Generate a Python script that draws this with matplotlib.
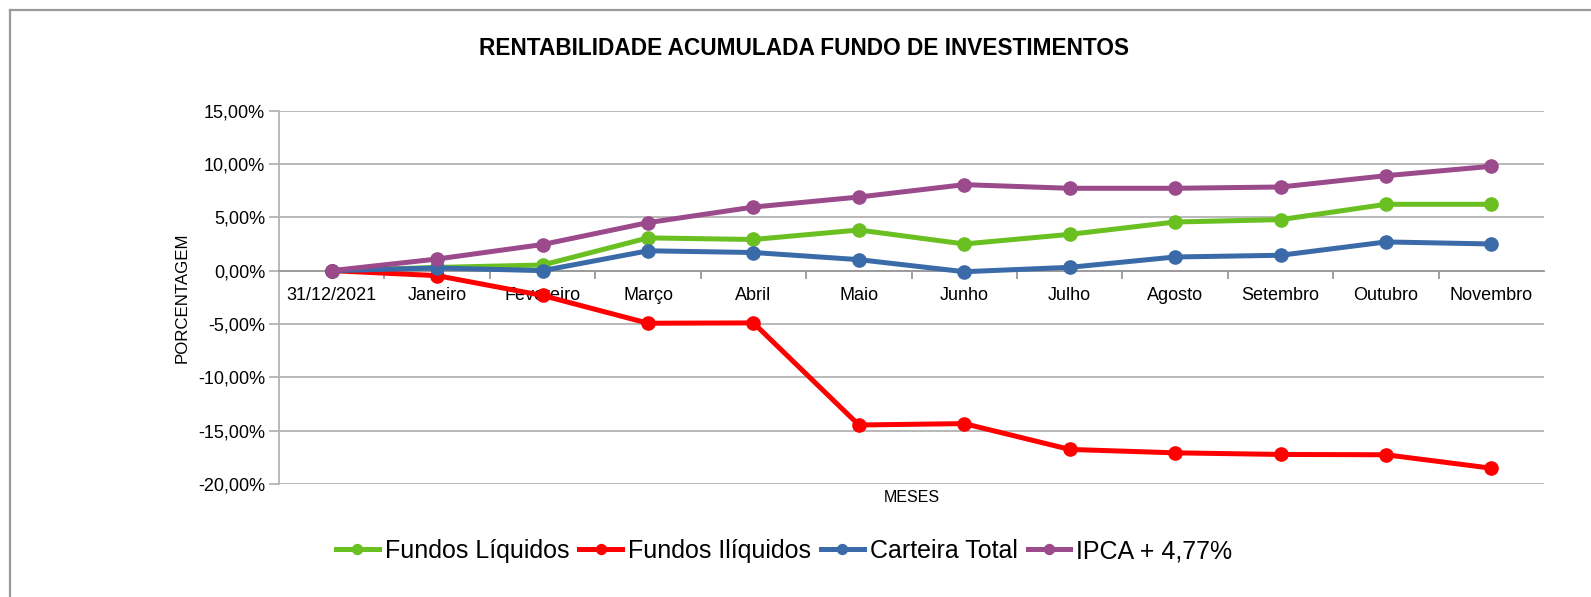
import matplotlib
matplotlib.use("Agg")
import matplotlib.pyplot as plt
from matplotlib.lines import Line2D
from matplotlib.ticker import FixedLocator, FuncFormatter

plt.rcParams['font.family'] = ['Liberation Sans', 'DejaVu Sans']

categories = ["31/12/2021", "Janeiro", "Fevereiro", "Março", "Abril", "Maio",
              "Junho", "Julho", "Agosto", "Setembro", "Outubro", "Novembro"]
fundos_liquidos = [0.0, 0.30, 0.53, 3.07, 2.92, 3.81, 2.50, 3.40, 4.56, 4.78, 6.22, 6.22]
fundos_iliquidos = [0.0, -0.47, -2.33, -4.93, -4.90, -14.47, -14.34, -16.76, -17.08, -17.23, -17.26, -18.52]
carteira_total = [0.0, 0.25, 0.0, 1.86, 1.70, 1.03, -0.10, 0.31, 1.28, 1.44, 2.69, 2.50]
ipca = [0.0, 1.09, 2.45, 4.50, 5.96, 6.90, 8.06, 7.72, 7.72, 7.84, 8.90, 9.78]

series = [
    ("Fundos Líquidos", fundos_liquidos, "#6abf21"),
    ("Fundos Ilíquidos", fundos_iliquidos, "#ff0000"),
    ("Carteira Total", carteira_total, "#3a6ba8"),
    ("IPCA + 4,77%", ipca, "#9b4a8c"),
]
yticks = [15, 10, 5, 0, -5, -10, -15, -20]

fig = plt.figure(figsize=(15.91, 5.97), dpi=100)
ax = fig.add_axes([0.1754, 0.1893, 0.9705 - 0.1754, 0.8147 - 0.1893])

x = list(range(len(categories)))
for name, vals, col in series:
    ax.plot(x, vals, color=col, lw=3.6, marker='o', markersize=9.5,
            solid_joinstyle='round', label=name, zorder=3)

ax.set_xlim(-0.5, len(categories) - 0.5)
ax.set_ylim(-20, 15)
ax.yaxis.set_major_locator(FixedLocator(yticks))
ax.yaxis.set_major_formatter(FuncFormatter(lambda v, p: f"{v:.2f}%".replace('.', ',')))
ax.grid(axis='y', color='#b3b3b3', lw=1.3, zorder=0)
ax.set_axisbelow(True)

for s in ['top', 'right']:
    ax.spines[s].set_visible(False)
ax.spines['left'].set_color('#b3b3b3')
ax.spines['left'].set_linewidth(1.3)
ax.spines['bottom'].set_position(('data', 0))
ax.spines['bottom'].set_color('#999999')
ax.spines['bottom'].set_linewidth(1.3)

# boundary ticks (no labels) and category labels
ax.xaxis.set_major_locator(FixedLocator([i + 0.5 for i in range(len(categories) - 1)]))
ax.xaxis.set_major_formatter(FuncFormatter(lambda v, p: ""))
ax.xaxis.set_minor_locator(FixedLocator(x))
ax.set_xticklabels(categories, minor=True)
ax.tick_params(axis='x', which='major', length=6, color='#999999', width=1.3, direction='out')
ax.tick_params(axis='x', which='minor', length=0, pad=12, labelsize=13)
ax.tick_params(axis='y', length=7, color='#b3b3b3', width=1.3, labelsize=13, pad=3)

ax.set_xlabel("MESES", fontsize=11.5)
ax.xaxis.set_label_coords(0.5, -0.016)
ax.set_ylabel("PORCENTAGEM", fontsize=12.2)
ax.yaxis.set_label_coords(-0.071, 0.5)

fig.text(0.5055, 0.919, "RENTABILIDADE ACUMULADA FUNDO DE INVESTIMENTOS",
         ha='center', va='center', fontsize=16.3, fontweight='bold')

fig.legend(loc='center', bbox_to_anchor=(0.493, 0.077), ncol=4, frameon=False,
           fontsize=18, handlelength=1.7, handletextpad=0.25, columnspacing=0.4,
           markerscale=0.75)

fig.add_artist(Line2D([0.0063, 0.0063], [0.0, 0.983], transform=fig.transFigure,
                      color='#999999', lw=1.6))
fig.add_artist(Line2D([0.0063, 1.0], [0.983, 0.983], transform=fig.transFigure,
                      color='#999999', lw=1.6))

fig.savefig("out.png", dpi=100, facecolor='white')
